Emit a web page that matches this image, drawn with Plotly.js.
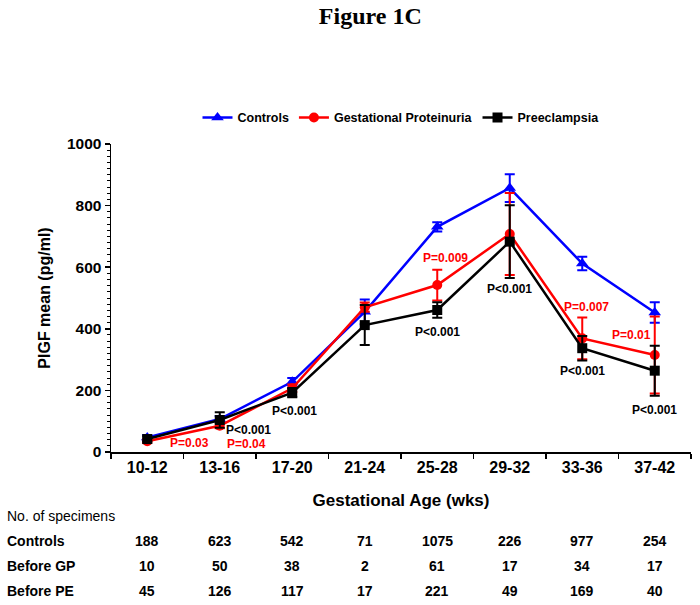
<!DOCTYPE html>
<html>
<head>
<meta charset="utf-8">
<script src="https://cdn.plot.ly/plotly-3.0.1.min.js"></script>
<style>html,body{margin:0;padding:0;background:#fff;}#chart{width:700px;height:605px;}</style>
</head>
<body>
<div id="chart"></div>
<script>
// ---- data ----
const categories = ['10-12','13-16','17-20','21-24','25-28','29-32','33-36','37-42'];
const controls    = [47, 107, 228, 455, 731, 857, 612, 453];
const controlsErr = [8, 10, 12, 40, 15, 45, 22, 33];
const gp          = [35, 85, 207, 470, 542, 708, 369, 315];
const gpErr       = [6, 8, 12, 15, 50, 133, 68, 125];
const pe          = [42, 104, 193, 412, 461, 683, 337, 264];
const peErr       = [8, 25, 15, 65, 25, 118, 40, 81];
const nControls   = [188, 623, 542, 71, 1075, 226, 977, 254];
const nBeforeGP   = [10, 50, 38, 2, 61, 17, 34, 17];
const nBeforePE   = [45, 126, 117, 17, 221, 49, 169, 40];
const rowLabels   = ['Controls', 'Before GP', 'Before PE'];

const FONT = 'Liberation Sans, Arial, sans-serif';
const RED = '#ff0000', BLUE = '#0000ff', BLACK = '#000000';

function trace(name, y, err, color, symbol, size) {
  return {
    type: 'scatter', mode: 'lines+markers', name: name,
    x: categories, y: y,
    line: {color: color, width: 2.5},
    marker: {color: color, symbol: symbol, size: size},
    error_y: {type: 'data', array: err, visible: true, color: color, thickness: 2, width: 5}
  };
}

const data = [
  trace('Controls', controls, controlsErr, BLUE, 'triangle-up', 11),
  trace('Gestational Proteinuria', gp, gpErr, RED, 'circle', 10),
  trace('Preeclampsia', pe, peErr, BLACK, 'square', 10)
];

// p-value labels
const annotations = [];
function pAnn(text, x, y, color) {
  annotations.push({text: '<b>' + text + '</b>', x: x, y: y, xref: 'x', yref: 'y',
    showarrow: false, font: {family: FONT, size: 12, color: color}});
}
pAnn('P=0.03', 0.58, 28, RED);
pAnn('P=0.04', 1.37, 27, RED);
pAnn('P<0.001', 1.40, 72, BLACK);
pAnn('P<0.001', 2.03, 134, BLACK);
pAnn('P=0.009', 4.11, 631, RED);
pAnn('P<0.001', 4.00, 389, BLACK);
pAnn('P<0.001', 5.00, 528, BLACK);
pAnn('P=0.007', 6.06, 472, RED);
pAnn('P<0.001', 6.00, 264, BLACK);
pAnn('P=0.01', 6.68, 380, RED);
pAnn('P<0.001', 7.00, 136, BLACK);

// specimen table
const rowY = [-0.289, -0.370, -0.451];
const rows = [nControls, nBeforeGP, nBeforePE];
annotations.push({text: 'No. of specimens', x: -0.183, y: -0.208, xref: 'paper', yref: 'paper',
  xanchor: 'left', yanchor: 'middle', showarrow: false, font: {family: FONT, size: 14, color: BLACK}});
rows.forEach(function (vals, r) {
  annotations.push({text: '<b>' + rowLabels[r] + '</b>', x: -0.183, y: rowY[r], xref: 'paper', yref: 'paper',
    xanchor: 'left', yanchor: 'middle', showarrow: false, font: {family: FONT, size: 14, color: BLACK}});
  vals.forEach(function (v, i) {
    annotations.push({text: '<b>' + v + '</b>', x: i, y: rowY[r], xref: 'x', yref: 'paper',
      xanchor: 'center', yanchor: 'middle', showarrow: false, font: {family: FONT, size: 14, color: BLACK}});
  });
});

const layout = {
  width: 700, height: 605,
  margin: {l: 111, r: 9, t: 144, b: 153},
  paper_bgcolor: '#fff', plot_bgcolor: '#fff',
  font: {family: FONT, color: BLACK},
  title: {text: '<b>Figure 1C</b>', x: 0.529, xref: 'container', xanchor: 'center',
    y: 0.975, yref: 'container', yanchor: 'middle',
    font: {family: 'Liberation Serif, Times New Roman, serif', size: 24, color: BLACK}},
  showlegend: true,
  legend: {orientation: 'h', x: 0.5, xanchor: 'center', y: 1.085, yanchor: 'middle',
    font: {family: FONT, size: 12.5, color: BLACK, weight: 'bold'}, bgcolor: 'rgba(0,0,0,0)',
    traceorder: 'normal'},
  xaxis: {type: 'category', categoryorder: 'array', categoryarray: categories,
    range: [-0.5, 7.5], tickson: 'boundaries', ticks: 'outside', ticklen: 5, tickwidth: 1.5,
    tickcolor: BLACK, showline: true, linecolor: BLACK, linewidth: 1.5, showgrid: false, zeroline: false,
    tickfont: {family: FONT, size: 16, color: BLACK, weight: 'bold'},
    title: {text: '<b>Gestational Age (wks)</b>', standoff: 19, font: {family: FONT, size: 17, color: BLACK}}},
  yaxis: {range: [0, 1000], dtick: 200, ticks: 'outside', ticklen: 5, tickwidth: 1.5, tickcolor: BLACK,
    showline: true, linecolor: BLACK, linewidth: 1.5, showgrid: false, zeroline: false,
    minor: {dtick: 20, ticks: 'outside', ticklen: 3, tickcolor: BLACK, tickwidth: 1},
    tickfont: {family: FONT, size: 15.5, color: BLACK, weight: 'bold'},
    title: {text: '<b>PlGF mean (pg/ml)</b>', standoff: 12, font: {family: FONT, size: 16, color: BLACK}}},
  annotations: annotations
};

Plotly.newPlot('chart', data, layout, {displayModeBar: false, staticPlot: true});
</script>
</body>
</html>
